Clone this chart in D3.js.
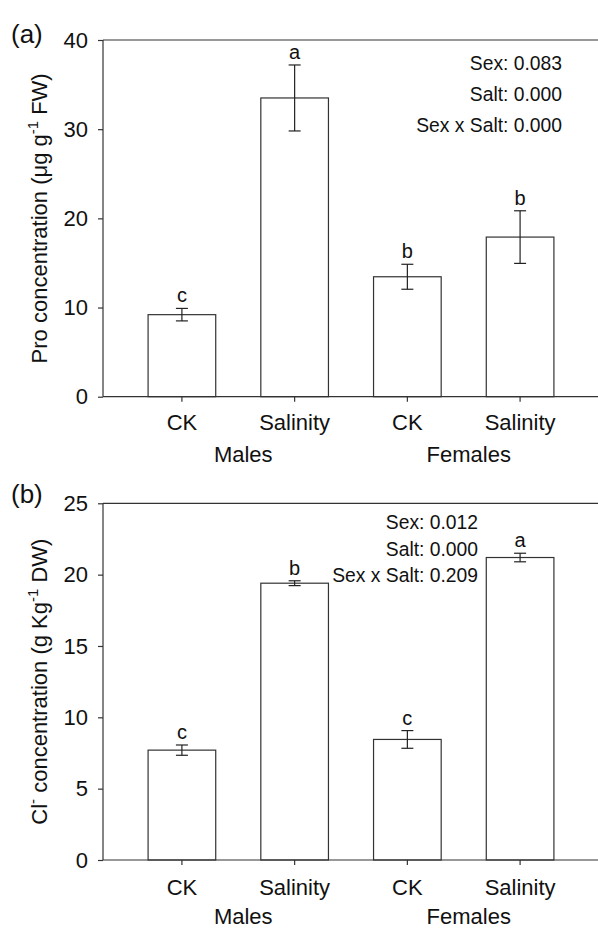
<!DOCTYPE html>
<html>
<head>
<meta charset="utf-8">
<script src="https://cdn.jsdelivr.net/npm/d3@7"></script>
<style>
  body { margin: 0; background: #fff; }
  svg text { font-family: "Liberation Sans", Arial, sans-serif; fill: #111; }
</style>
</head>
<body>
<div id="chart"></div>
<script>
// categories
const treatments = ["CK", "Salinity", "CK", "Salinity"];
const sexes = ["Males", "Females"];

// panel (a) proline
const proMeans = [9.2, 33.5, 13.45, 17.9];
const proErr = [0.7, 3.7, 1.4, 2.95];
const proLetters = ["c", "a", "b", "b"];
const proTicks = [0, 10, 20, 30, 40];
const proStats = ["Sex: 0.083", "Salt: 0.000", "Sex x Salt: 0.000"];

// panel (b) chloride
const clMeans = [7.7, 19.4, 8.45, 21.2];
const clErr = [0.36, 0.17, 0.62, 0.3];
const clLetters = ["c", "b", "c", "a"];
const clTicks = [0, 5, 10, 15, 20, 25];
const clStats = ["Sex: 0.012", "Salt: 0.000", "Sex x Salt: 0.209"];

const W = 598, H = 931;
const ink = "#333";
const font = "'Liberation Sans', Arial, sans-serif";

const svg = d3.select("#chart").append("svg")
  .attr("width", W)
  .attr("height", H);

function drawPanel(cfg) {
  const g = svg.append("g");
  const left = 103, right = 599;

  const x = d3.scaleBand()
    .domain(d3.range(treatments.length))
    .range([left, right])
    .paddingInner(0.4)
    .paddingOuter(0.4);

  const y = d3.scaleLinear()
    .domain([0, d3.max(cfg.ticks)])
    .range([cfg.bottom, cfg.top]);

  // top frame line
  g.append("line")
    .attr("x1", left).attr("x2", right)
    .attr("y1", y(d3.max(cfg.ticks))).attr("y2", y(d3.max(cfg.ticks)))
    .attr("stroke", ink).attr("stroke-width", 1.2);

  // bars
  g.selectAll("rect.bar")
    .data(cfg.means)
    .enter()
    .append("rect")
    .attr("class", "bar")
    .attr("x", (d, i) => x(i))
    .attr("width", x.bandwidth())
    .attr("y", d => y(d))
    .attr("height", d => y(0) - y(d))
    .attr("fill", "#fff")
    .attr("stroke", ink)
    .attr("stroke-width", 1.2);

  // error bars + letters
  const eb = g.append("g").attr("stroke", "#222").attr("stroke-width", 1.2);
  cfg.means.forEach((m, i) => {
    const cx = x(i) + x.bandwidth() / 2;
    const hi = y(m + cfg.err[i]), lo = y(m - cfg.err[i]);
    eb.append("line").attr("x1", cx).attr("x2", cx).attr("y1", hi).attr("y2", lo);
    eb.append("line").attr("x1", cx - 6).attr("x2", cx + 6).attr("y1", hi).attr("y2", hi);
    eb.append("line").attr("x1", cx - 6).attr("x2", cx + 6).attr("y1", lo).attr("y2", lo);
    g.append("text")
      .attr("x", cx)
      .attr("y", hi - 6)
      .attr("text-anchor", "middle")
      .style("font-size", "20px")
      .text(cfg.letters[i]);
  });

  // y axis
  const yAxis = g.append("g")
    .attr("transform", `translate(${left},0)`)
    .call(d3.axisLeft(y).tickValues(cfg.ticks).tickSize(5).tickPadding(10));
  yAxis.select(".domain").remove();
  yAxis.append("line")
    .attr("x1", 0).attr("x2", 0)
    .attr("y1", y(0)).attr("y2", y(d3.max(cfg.ticks)))
    .attr("stroke", ink).attr("stroke-width", 1.2);
  yAxis.selectAll(".tick line").attr("stroke", ink).attr("stroke-width", 1.2);
  yAxis.selectAll(".tick text")
    .style("font-size", "22px")
    .style("font-family", font)
    .attr("fill", "#111");

  // x axis
  const xAxis = g.append("g")
    .attr("transform", `translate(0,${y(0)})`)
    .call(d3.axisBottom(x).tickFormat(i => treatments[i]).tickSize(5).tickPadding(cfg.xPad));
  xAxis.select(".domain").remove();
  xAxis.append("line")
    .attr("x1", left).attr("x2", right)
    .attr("stroke", ink).attr("stroke-width", 1.2);
  xAxis.selectAll(".tick line").attr("stroke", ink).attr("stroke-width", 1.2);
  xAxis.selectAll(".tick text")
    .style("font-size", "22px")
    .style("font-family", font)
    .attr("fill", "#111");

  // group labels
  sexes.forEach((s, k) => {
    const mid = (x(2 * k) + x(2 * k + 1) + x.bandwidth()) / 2 + 5;
    g.append("text")
      .attr("x", mid)
      .attr("y", y(0) + cfg.groupDy)
      .attr("text-anchor", "middle")
      .style("font-size", "22px")
      .text(s);
  });

  // stats annotation
  cfg.stats.forEach((s, k) => {
    g.append("text")
      .attr("x", cfg.statsX)
      .attr("y", cfg.statsY + k * cfg.statsGap)
      .attr("text-anchor", "end")
      .style("font-size", "19.3px")
      .text(s);
  });

  // panel tag
  g.append("text")
    .attr("x", 11)
    .attr("y", cfg.tagY)
    .style("font-size", "26px")
    .text(cfg.tag);

  // y label
  const yl = g.append("text")
    .attr("transform", `translate(47,${(cfg.top + cfg.bottom) / 2}) rotate(-90)`)
    .attr("text-anchor", "middle")
    .style("font-size", "22px");
  cfg.label.forEach(([t, sup]) => {
    const ts = yl.append("tspan").text(t);
    if (sup) ts.attr("dy", -9).style("font-size", "15px");
    else if (ts.node().previousSibling) ts.attr("dy", 9);
  });
}

drawPanel({
  tag: "(a)", tagY: 42.5, top: 40, bottom: 396.7,
  means: proMeans, err: proErr, letters: proLetters, ticks: proTicks,
  stats: proStats, statsX: 562, statsY: 70, statsGap: 31,
  xPad: 13, groupDy: 65,
  label: [["Pro concentration (\u03bcg g", false], ["-1", true], [" FW)", false]]
});

drawPanel({
  tag: "(b)", tagY: 502.5, top: 503.3, bottom: 860,
  means: clMeans, err: clErr, letters: clLetters, ticks: clTicks,
  stats: clStats, statsX: 478, statsY: 529, statsGap: 26.7,
  xPad: 14.5, groupDy: 64,
  label: [["Cl", false], ["-", true], [" concentration (g Kg", false], ["-1", true], [" DW)", false]]
});
</script>
</body>
</html>
